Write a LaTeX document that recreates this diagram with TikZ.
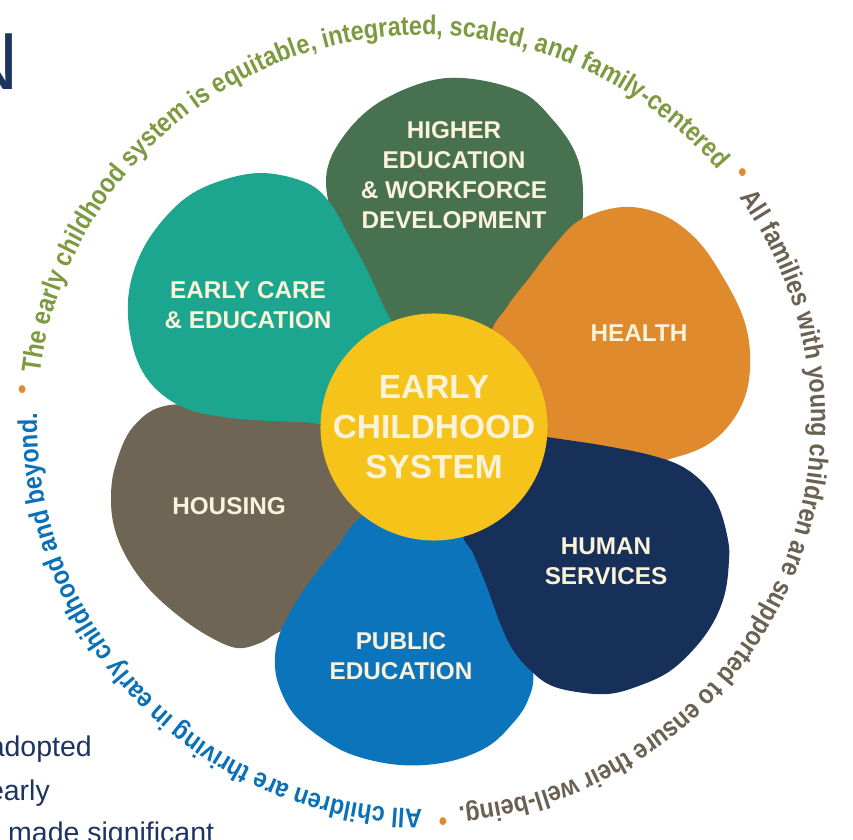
\documentclass[tikz,border=0pt]{standalone}
\usepackage{fontspec}
\setmainfont{Liberation Sans}
\newfontfamily\ringfamily{Liberation Sans}[FakeStretch=0.87]
\usetikzlibrary{decorations.text}

\definecolor{hiedgreen}{HTML}{47714F}
\definecolor{careteal}{HTML}{1CA68F}
\definecolor{healthorange}{HTML}{DF8A2C}
\definecolor{housingtaupe}{HTML}{6E6554}
\definecolor{publicblue}{HTML}{0B74BB}
\definecolor{humannavy}{HTML}{17305A}
\definecolor{coreyellow}{HTML}{F6C31B}
\definecolor{cream}{HTML}{FBF2DA}
\definecolor{ringolive}{HTML}{7E9A40}
\definecolor{ringbrown}{HTML}{6A6153}
\definecolor{ringblue}{HTML}{0A70B7}
\definecolor{pagenavy}{HTML}{1D3360}

\newcommand{\ringfont}{\ringfamily\bfseries\fontsize{27}{31}\selectfont}

\begin{document}
\begin{tikzpicture}[x=1pt, y=1pt]
  \tikzstyle{petal} = [smooth cycle, tension=0.6]
  \tikzstyle{petalLabel} = [text=cream, align=center, inner sep=0pt, font={\fontsize{24.3}{30}\selectfont\bfseries}]
  \tikzstyle{core} = [circle, fill=coreyellow, minimum size=225pt, inner sep=0pt, text=cream, align=center, font={\fontsize{33.4}{40}\selectfont\bfseries}]
  \tikzstyle{ringSep} = [text=healthorange, inner sep=0pt, font={\ringfont}]
  \tikzstyle{pageText} = [text=pagenavy, inner sep=0pt, font={\fontsize{28.5}{34}\selectfont}]

  \clip (0,0) rectangle (853,839);

  % petals, back to front
  \fill[hiedgreen] plot[petal] coordinates {(447,761) (517,749) (553,719) (577,682) (583,639) (575,584) (530,519) (440,459) (400,489) (370,539) (340,599) (326,659) (343,702) (383,739)};
  \fill[housingtaupe] plot[petal] coordinates {(170,434) (250,429) (330,414) (385,369) (370,299) (320,229) (277,206) (260,196) (237,191) (210,202) (180,222) (150,249) (128,279) (115,309) (111,339) (115,372) (133,412)};
  \fill[healthorange] plot[petal] coordinates {(623,632) (663,624) (697,599) (723,562) (743,522) (750,486) (747,449) (733,419) (710,396) (680,383) (640,376) (570,387) (500,429) (490,499) (507,532) (530,562) (553,592) (580,619)};
  \fill[publicblue] plot[petal] coordinates {(360,321) (337,292) (313,262) (293,232) (280,206) (275,182) (278,156) (293,126) (320,102) (353,84) (400,74) (447,77) (487,92) (513,116) (528,139) (533,169) (520,239) (490,319) (420,359)};
  \fill[careteal] plot[petal] coordinates {(263,666) (307,656) (330,636) (350,601) (368,567) (387,526) (405,494) (415,444) (355,415) (300,417) (240,420) (190,429) (157,449) (137,479) (128,522) (132,562) (150,602) (183,639) (220,658)};
  \fill[humannavy] plot[petal] coordinates {(547,402) (600,394) (650,384) (683,372) (707,352) (720,329) (728,299) (729,279) (725,246) (713,216) (693,189) (667,166) (633,151) (607,145) (577,147) (550,154) (530,169) (513,189) (500,216) (487,252) (473,286) (463,306) (470,359) (520,407)};

  \node[core] (core) at (434,412) {EARLY\\CHILDHOOD\\SYSTEM};

  \node[petalLabel] (hied) at (454,664) {HIGHER\\EDUCATION\\\& WORKFORCE\\DEVELOPMENT};
  \node[petalLabel] (care) at (248,534) {EARLY CARE\\\& EDUCATION};
  \node[petalLabel] (health) at (639,506) {HEALTH};
  \node[petalLabel] (housing) at (229,333) {HOUSING};
  \node[petalLabel] (publiced) at (401,183) {PUBLIC\\EDUCATION};
  \node[petalLabel] (humserv) at (606,278) {HUMAN\\SERVICES};

  % ring of text, clockwise
  \coordinate (ring) at (424,417);
  \path[decorate, decoration={text along path, text align=center,
      text={|\ringfont\color{ringolive}|The early childhood system is equitable, integrated, scaled, and family-centered}}]
    ([shift={(178.7:387)}]ring) arc[start angle=178.7, end angle=34.8, radius=387];
  \path[decorate, decoration={text along path, text align=center,
      text={|\ringfont\color{ringbrown}|All families with young children are supported to ensure their well-being.}}]
    ([shift={(40.8:387)}]ring) arc[start angle=40.8, end angle=-90.3, radius=387];
  \path[decorate, decoration={text along path, text align=center,
      text={|\ringfont\color{ringblue}|All children are thriving in early childhood and beyond.}}]
    ([shift={(-84.3:387)}]ring) arc[start angle=-84.3, end angle=-187.3, radius=387];

  \node[ringSep] (sepA) at ([shift={(175.7:403)}]ring) {•};
  \node[ringSep] (sepB) at ([shift={(37.8:403)}]ring) {•};
  \node[ringSep] (sepC) at ([shift={(-87.3:403)}]ring) {•};

  % cropped page text
  \node[pageText, font={\fontsize{81}{81}\selectfont}, anchor=base east] (title) at (19,749) {N};
  \node[pageText, anchor=base east] (lineA) at (92,83) {adopted};
  \node[pageText, anchor=base east] (lineB) at (50,39) {early};
  \node[pageText, anchor=base west] (lineC) at (8,-3) {made significant};
\end{tikzpicture}
\end{document}
